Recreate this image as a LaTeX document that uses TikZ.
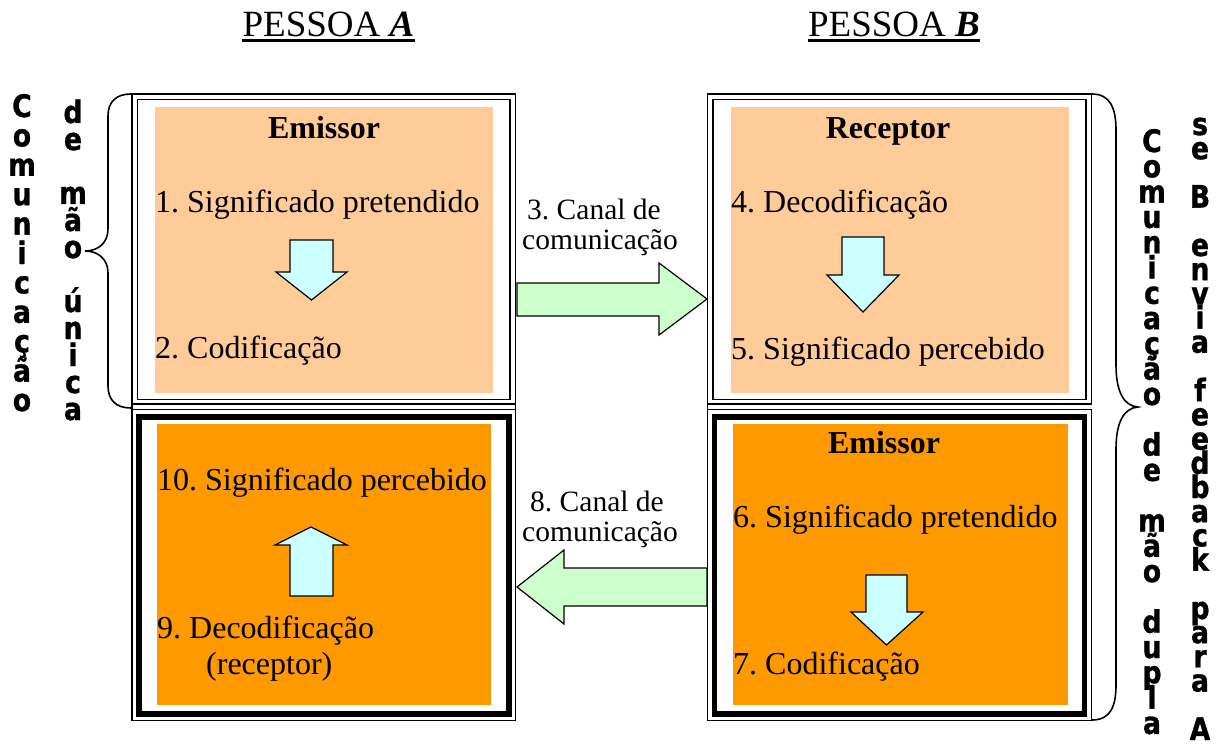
\documentclass[tikz,border=0pt]{standalone}
\usepackage{fontspec}
\setmainfont{Liberation Serif}
\newfontfamily\vfont{DejaVu Sans}[FakeStretch=0.86, BoldFeatures={FakeBold=1}]
\definecolor{lightorg}{HTML}{FFCC99}
\definecolor{darkorg}{HTML}{FF9900}
\definecolor{arrcyan}{HTML}{CCFFFF}
\definecolor{arrgreen}{HTML}{CCFFCC}
\frenchspacing
\tikzset{
 body/.style={font=\fontsize{32}{38}\selectfont, inner sep=0pt, anchor=base west},
 bodyb/.style={font=\fontsize{32}{38}\selectfont\bfseries, inner sep=0pt, anchor=base},
 chan/.style={font=\fontsize{29.5}{35}\selectfont, inner sep=0pt, anchor=base},
 head/.style={font=\fontsize{37}{44}\selectfont, inner sep=0pt, anchor=base},
 vlet/.style={font=\vfont\bfseries\fontsize{31}{34}\selectfont, inner sep=0pt, anchor=base},
 fillbox/.style={inner sep=0pt, outer sep=0pt, anchor=north west, draw=none},
 thinline/.style={line width=1.8pt},
 thickline/.style={line width=5.5pt},
 blockcyan/.style={draw=black, line width=1.2pt, fill=arrcyan, line join=miter},
 blockgreen/.style={draw=black, line width=1.2pt, fill=arrgreen, line join=miter},
 bracestyle/.style={line width=1.6pt},
}
\begin{document}
\begin{tikzpicture}[x=1pt,y=-1pt]
\useasboundingbox (0,0) rectangle (1220,746);
% fills
\node[fillbox, fill=lightorg, minimum width=338pt, minimum height=286pt] (fTL) at (155,107) {};
\node[fillbox, fill=lightorg, minimum width=338pt, minimum height=286pt] (fTR) at (731,107) {};
\node[fillbox, fill=darkorg, minimum width=334pt, minimum height=281pt] (fBL) at (157,424) {};
\node[fillbox, fill=darkorg, minimum width=335pt, minimum height=281pt] (fBR) at (733,424) {};
% borders top
\draw[thinline] (132,94) rectangle (515.5,404);
\draw[thinline] (137.5,99.5) rectangle (510,399.5);
\draw[thinline] (707.5,94) rectangle (1091.5,404);
\draw[thinline] (713,99.5) rectangle (1086,399.5);
% borders bottom
\draw[thinline] (132,409.5) rectangle (515.5,720.5);
\draw[thickline] (139,417) rectangle (509,714);
\draw[thinline] (707.5,409.5) rectangle (1091.5,720.5);
\draw[thickline] (714.5,417) rectangle (1084.5,714);
\draw[thinline] (132,404) -- (132,409.5) (515.5,404) -- (515.5,409.5) (707.5,404) -- (707.5,409.5);
% braces
\draw[bracestyle] (131,94) .. controls (116,94) and (108,102) .. (108,116) -- (108,229) .. controls (108,243) and (98,251) .. (85,251) .. controls (98,251) and (108,259) .. (108,273) -- (108,386) .. controls (108,400) and (116,408) .. (131,408);
\draw[bracestyle] (1092,94) .. controls (1110,94) and (1116,108) .. (1116,130) -- (1116,365) .. controls (1116,392) and (1124,406) .. (1138,407) .. controls (1124,408) and (1116,422) .. (1116,449) -- (1116,685) .. controls (1116,707) and (1110,720) .. (1092,720);
% block arrows
\draw[blockgreen] (517,283) -- (659,283) -- (659,263) -- (707,299) -- (659,335) -- (659,316) -- (517,316) -- cycle;
\draw[blockgreen] (707,568) -- (564,568) -- (564,550) -- (517,587) -- (564,624) -- (564,606) -- (707,606) -- cycle;
\draw[blockcyan] (290,240) -- (333,240) -- (333,272) -- (347,272) -- (311.5,300) -- (276,272) -- (290,272) -- cycle;
\draw[blockcyan] (842,237) -- (884,237) -- (884,275) -- (899,275) -- (863,312) -- (827,275) -- (842,275) -- cycle;
\draw[blockcyan] (866,575) -- (907,575) -- (907,612) -- (923,612) -- (886.5,645) -- (851,612) -- (866,612) -- cycle;
\draw[blockcyan] (290,596) -- (333,596) -- (333,545) -- (347,545) -- (311,527) -- (275,545) -- (290,545) -- cycle;
% headings
\node[head] (pA) at (328.5,37) {PESSOA \textbf{\textit{A}}};
\node[head] (pB) at (894,37) {PESSOA \textbf{\textit{B}}};
\draw[line width=3pt] ([yshift=-4pt]pA.base west) -- ([yshift=-4pt]pA.base east);
\draw[line width=3pt] ([yshift=-4pt]pB.base west) -- ([yshift=-4pt]pB.base east);
% texts
\node[bodyb] (emA) at (324,139) {Emissor};
\node[body] (t1) at (155,212) {1. Significado pretendido};
\node[body] (t2) at (155,358) {2. Codificação};
\node[chan] (c3a) at (594,219) {3. Canal de};
\node[chan] (c3b) at (600,249) {comunicação};
\node[bodyb] (recB) at (888,139) {Receptor};
\node[body] (t4) at (731,212) {4. Decodificação};
\node[body] (t5) at (731,359) {5. Significado percebido};
\node[bodyb] (emB) at (884,453) {Emissor};
\node[body] (t6) at (733,527) {6. Significado pretendido};
\node[body] (t7) at (733,674) {7. Codificação};
\node[chan] (c8a) at (597,511) {8. Canal de};
\node[chan] (c8b) at (600,541) {comunicação};
\node[body] (t10) at (157,490) {10. Significado percebido};
\node[body] (t9) at (157,638) {9. Decodificação};
\node[body] (t9b) at (206,674) {(receptor)};
% vertical texts
\foreach \c [count=\i from 0] in {C,o,m,u,n,i,c,a,ç,ã,o}
  \node[vlet, name=va\i] at (22,117+\i*29.4) {\c};
\foreach \c [count=\i from 0] in {d,e,{},m,ã,o,{},ú,n,i,c,a}
  \node[vlet, name=vb\i] at (73,123+\i*27) {\c};
\foreach \c [count=\i from 0] in {C,o,m,u,n,i,c,a,ç,ã,o,{},d,e,{},m,ã,o,{},d,u,p,l,a}
  \node[vlet, name=vc\i] at (1152,152+\i*25.3) {\c};
\foreach \c [count=\i from 0] in {s,e,{},B,{},e,n,v,i,a,{},f,e,e,d,b,a,c,k,{},p,a,r,a,{},A}
  \node[vlet, name=vd\i] at (1200,135+\i*24.2) {\c};
\end{tikzpicture}
\end{document}
